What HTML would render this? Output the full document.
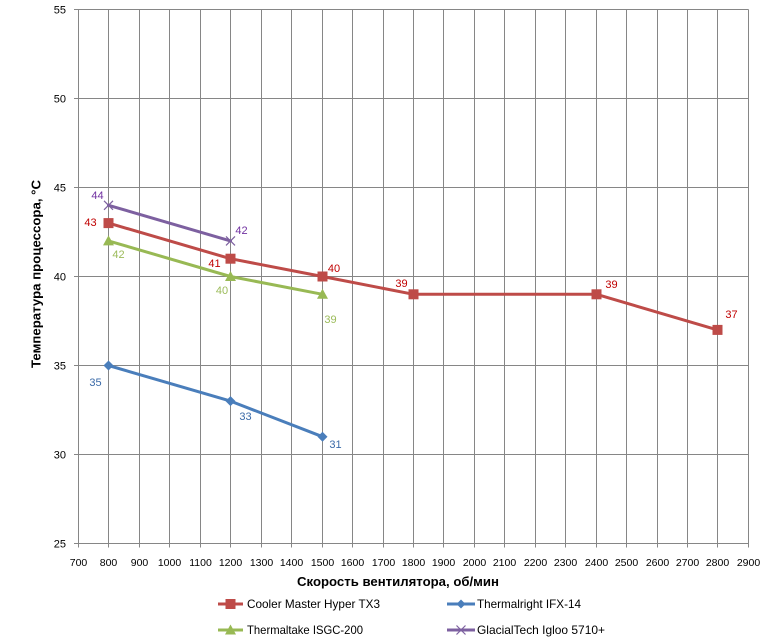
<!DOCTYPE html>
<html>
<head>
<meta charset="utf-8">
<style>
html,body{margin:0;padding:0;background:#fff;}
svg{display:block;}
text{font-family:"Liberation Sans","DejaVu Sans",sans-serif;}
</style>
</head>
<body>
<svg width="782" height="637" viewBox="0 0 782 637" xmlns="http://www.w3.org/2000/svg">
<rect width="782" height="637" fill="#fff"/>
<g stroke="#868686" stroke-width="1" fill="none">
<!-- vertical grid -->
<path d="M78.5 9.5V547.5M108.5 9.5V547.5M139.5 9.5V547.5M169.5 9.5V547.5M200.5 9.5V547.5M230.5 9.5V547.5M261.5 9.5V547.5M291.5 9.5V547.5M322.5 9.5V547.5M352.5 9.5V547.5M383.5 9.5V547.5M413.5 9.5V547.5M443.5 9.5V547.5M474.5 9.5V547.5M504.5 9.5V547.5M535.5 9.5V547.5M565.5 9.5V547.5M596.5 9.5V547.5M626.5 9.5V547.5M657.5 9.5V547.5M687.5 9.5V547.5M717.5 9.5V547.5M748.5 9.5V547.5"/>
<!-- horizontal grid -->
<path d="M74 9.5H748.5M74 98.5H748.5M74 187.5H748.5M74 276.5H748.5M74 365.5H748.5M74 454.5H748.5M74 543.5H748.5"/>
</g>
<!-- y tick labels -->
<g font-size="11" fill="#000" text-anchor="end">
<text x="66" y="13.5">55</text>
<text x="66" y="102.5">50</text>
<text x="66" y="191.5">45</text>
<text x="66" y="280.5">40</text>
<text x="66" y="369.5">35</text>
<text x="66" y="458.5">30</text>
<text x="66" y="547.5">25</text>
</g>
<!-- x tick labels -->
<g font-size="10.5" fill="#000" text-anchor="middle">
<text x="78.5" y="566">700</text>
<text x="108.5" y="566">800</text>
<text x="139.5" y="566">900</text>
<text x="169.5" y="566">1000</text>
<text x="200.5" y="566">1100</text>
<text x="230.5" y="566">1200</text>
<text x="261.5" y="566">1300</text>
<text x="291.5" y="566">1400</text>
<text x="322.5" y="566">1500</text>
<text x="352.5" y="566">1600</text>
<text x="383.5" y="566">1700</text>
<text x="413.5" y="566">1800</text>
<text x="443.5" y="566">1900</text>
<text x="474.5" y="566">2000</text>
<text x="504.5" y="566">2100</text>
<text x="535.5" y="566">2200</text>
<text x="565.5" y="566">2300</text>
<text x="596.5" y="566">2400</text>
<text x="626.5" y="566">2500</text>
<text x="657.5" y="566">2600</text>
<text x="687.5" y="566">2700</text>
<text x="717.5" y="566">2800</text>
<text x="748.5" y="566">2900</text>
</g>
<!-- axis titles -->
<text x="297" y="586" font-size="13" font-weight="bold" fill="#000" textLength="202" lengthAdjust="spacingAndGlyphs">Скорость вентилятора, об/мин</text>
<text transform="translate(40.5,368) rotate(-90)" x="0" y="0" font-size="13" font-weight="bold" fill="#000" textLength="188" lengthAdjust="spacingAndGlyphs">Температура процессора, °C</text>

<!-- series lines -->
<g fill="none" stroke-width="3" stroke-linejoin="round" stroke-linecap="round">
<polyline stroke="#BE4B48" points="108.5,223.1 230.5,258.7 322.5,276.5 413.5,294.3 596.5,294.3 717.5,329.9"/>
<polyline stroke="#4A7EBB" points="108.5,365.5 230.5,401.1 322.5,436.7"/>
<polyline stroke="#98B954" points="108.5,240.9 230.5,276.5 322.5,294.3"/>
<polyline stroke="#7D60A0" points="108.5,205.3 230.5,240.9"/>
</g>
<!-- markers -->
<g fill="#BE4B48">
<rect x="103.5" y="218.1" width="10" height="10"/>
<rect x="225.5" y="253.7" width="10" height="10"/>
<rect x="317.5" y="271.5" width="10" height="10"/>
<rect x="408.5" y="289.3" width="10" height="10"/>
<rect x="591.5" y="289.3" width="10" height="10"/>
<rect x="712.5" y="324.9" width="10" height="10"/>
</g>
<g fill="#4A7EBB">
<polygon points="108.5,360.5 113.5,365.5 108.5,370.5 103.5,365.5"/>
<polygon points="230.5,396.1 235.5,401.1 230.5,406.1 225.5,401.1"/>
<polygon points="322.5,431.7 327.5,436.7 322.5,441.7 317.5,436.7"/>
</g>
<g fill="#98B954">
<polygon points="108.5,235.4 114,245.4 103,245.4"/>
<polygon points="230.5,271 236,281 225,281"/>
<polygon points="322.5,288.8 328,298.8 317,298.8"/>
</g>
<g stroke="#7D60A0" stroke-width="1.2">
<path d="M104 200.8L113 209.8M113 200.8L104 209.8"/>
<path d="M226 236.4L235 245.4M235 236.4L226 245.4"/>
</g>

<!-- data labels -->
<g font-size="11" text-anchor="middle">
<text x="97.5" y="199" fill="#7030A0">44</text>
<text x="241.5" y="234" fill="#7030A0">42</text>
<text x="90.5" y="226" fill="#C00000">43</text>
<text x="214.5" y="267" fill="#C00000">41</text>
<text x="334" y="272" fill="#C00000">40</text>
<text x="401.5" y="287" fill="#C00000">39</text>
<text x="611.5" y="288" fill="#C00000">39</text>
<text x="731.5" y="318" fill="#C00000">37</text>
<text x="118.5" y="258" fill="#9BBB59">42</text>
<text x="222" y="294" fill="#9BBB59">40</text>
<text x="330.5" y="323" fill="#9BBB59">39</text>
<text x="95.5" y="386" fill="#3A6AA8">35</text>
<text x="245.5" y="420" fill="#3A6AA8">33</text>
<text x="335.5" y="448" fill="#3A6AA8">31</text>
</g>

<!-- legend -->
<g stroke-width="3">
<line x1="218" y1="604" x2="243" y2="604" stroke="#BE4B48"/>
<line x1="447" y1="604" x2="475" y2="604" stroke="#4A7EBB"/>
<line x1="218" y1="630" x2="243" y2="630" stroke="#98B954"/>
<line x1="447" y1="630" x2="475" y2="630" stroke="#7D60A0"/>
</g>
<rect x="225.5" y="599" width="10" height="10" fill="#BE4B48"/>
<polygon points="461,599.5 465.5,604 461,608.5 456.5,604" fill="#4A7EBB"/>
<polygon points="230.5,624.5 236,634.5 225,634.5" fill="#98B954"/>
<path d="M456.5 625.5L465.5 634.5M465.5 625.5L456.5 634.5" stroke="#7D60A0" stroke-width="1.2"/>
<g font-size="12" fill="#000">
<text x="247" y="608" textLength="133" lengthAdjust="spacingAndGlyphs">Cooler Master Hyper TX3</text>
<text x="477" y="608" textLength="104" lengthAdjust="spacingAndGlyphs">Thermalright IFX-14</text>
<text x="247" y="634" textLength="116" lengthAdjust="spacingAndGlyphs">Thermaltake ISGC-200</text>
<text x="477" y="634" textLength="128" lengthAdjust="spacingAndGlyphs">GlacialTech Igloo 5710+</text>
</g>
</svg>
</body>
</html>
